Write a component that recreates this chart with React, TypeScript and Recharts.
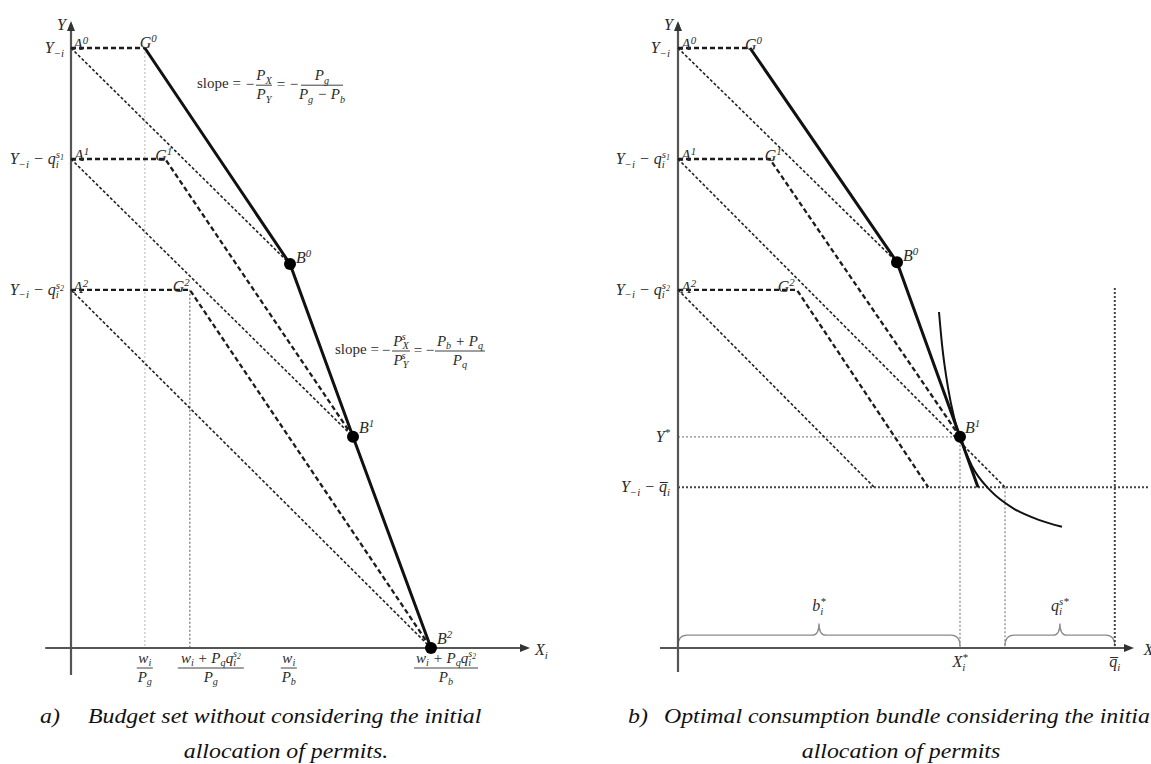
import React from "react";
import {
  ComposedChart,
  Line,
  Scatter,
  XAxis,
  YAxis,
  ReferenceDot,
  ReferenceArea,
} from "recharts";

const FONT = "'Liberation Serif', 'DejaVu Serif', serif";
const INK = "#111";
const TXT = "#2b2b2b";

type Pt = { x: number; y: number };
type Part = { t: string; s?: "sub" | "sup" | "ss"; dx?: number; roman?: boolean };

// ---------- panel a: budget set without initial allocation ----------
const aXAxis: Pt[] = [{ x: -4.3, y: 0 }, { x: 75, y: 0 }];
const aYAxis: Pt[] = [{ x: 0, y: -4.5 }, { x: 0, y: 104 }];
const aFrontier: Pt[] = [
  { x: 12.3, y: 100 },
  { x: 36.5, y: 64 },
  { x: 47, y: 35.2 },
  { x: 60, y: 0 },
];
const aKinked: Pt[][] = [
  [{ x: 0, y: 100 }, { x: 12.3, y: 100 }],
  [{ x: 0, y: 81.5 }, { x: 15.7, y: 81.5 }, { x: 47, y: 35.2 }],
  [{ x: 0, y: 59.7 }, { x: 19.8, y: 59.7 }, { x: 60, y: 0 }],
];
const aBudget: Pt[][] = [
  [{ x: 0, y: 100 }, { x: 36.5, y: 64 }],
  [{ x: 0, y: 81.5 }, { x: 47, y: 35.2 }],
  [{ x: 0, y: 59.7 }, { x: 60, y: 0 }],
];
const aGuideLight: Pt[] = [{ x: 12.3, y: 100 }, { x: 12.3, y: 0 }];
const aGuideDark: Pt[] = [{ x: 19.8, y: 59.7 }, { x: 19.8, y: 0 }];
const aBundles: Pt[] = [{ x: 36.5, y: 64 }, { x: 47, y: 35.2 }, { x: 60, y: 0 }];
const aPoints = [
  { id: "A0", x: 0, y: 100 },
  { id: "G0", x: 12.3, y: 100 },
  { id: "A1", x: 0, y: 81.5 },
  { id: "G1", x: 15.7, y: 81.5 },
  { id: "A2", x: 0, y: 59.7 },
  { id: "G2", x: 19.8, y: 59.7 },
  { id: "B0", x: 36.5, y: 64 },
  { id: "B1", x: 47, y: 35.2 },
  { id: "B2", x: 60, y: 0 },
];
const aYTicks = [
  { id: "Y", y: 100 },
  { id: "Ys1", y: 81.5 },
  { id: "Ys2", y: 59.7 },
];
const aXTicks = [
  { id: "wPg", x: 12.3 },
  { id: "wqPg", x: 19.8 },
  { id: "wPb", x: 36.3 },
  { id: "wqPb", x: 60 },
];

// ---------- panel b: optimal bundle with initial allocation ----------
const bXAxis: Pt[] = [{ x: -3, y: 0 }, { x: 74.5, y: 0 }];
const bYAxis: Pt[] = [{ x: 0, y: -4 }, { x: 0, y: 104 }];
const bFrontier: Pt[] = [
  { x: 12, y: 100 },
  { x: 36.5, y: 64.3 },
  { x: 47, y: 35.2 },
  { x: 50, y: 26.8 },
];
const bKinked: Pt[][] = [
  [{ x: 0, y: 100 }, { x: 12, y: 100 }],
  [{ x: 0, y: 81.5 }, { x: 15.3, y: 81.5 }, { x: 47, y: 35.2 }],
  [{ x: 0, y: 59.7 }, { x: 19.8, y: 59.7 }, { x: 41.7, y: 26.8 }],
];
const bBudget: Pt[][] = [
  [{ x: 0, y: 100 }, { x: 36.5, y: 64.3 }],
  [{ x: 0, y: 81.5 }, { x: 54.5, y: 26.8 }],
  [{ x: 0, y: 59.7 }, { x: 32.7, y: 26.8 }],
];
const bYStar: Pt[] = [{ x: 0, y: 35.2 }, { x: 47, y: 35.2 }];
const bFloor: Pt[] = [{ x: 0, y: 26.8 }, { x: 78.5, y: 26.8 }];
const bDropStar: Pt[] = [{ x: 47, y: 35.2 }, { x: 47, y: 0 }];
const bDropEdge: Pt[] = [{ x: 54.5, y: 26.8 }, { x: 54.5, y: 0 }];
const bDropQbar: Pt[] = [{ x: 72.8, y: 60 }, { x: 72.8, y: 0 }];
const bIndifference: Pt[] = [
  { x: 43.5, y: 56 },
  { x: 44, y: 50.6 },
  { x: 45, y: 43.4 },
  { x: 46, y: 38.5 },
  { x: 47, y: 35.1 },
  { x: 49, y: 30.3 },
  { x: 52, y: 26.3 },
  { x: 56, y: 23.2 },
  { x: 60, y: 21.4 },
  { x: 64, y: 20.2 },
];
const bBundles: Pt[] = [{ x: 36.5, y: 64.3 }, { x: 47, y: 35.2 }];
const bPoints = [
  { id: "A0", x: 0, y: 100 },
  { id: "G0", x: 12, y: 100 },
  { id: "A1", x: 0, y: 81.5 },
  { id: "G1", x: 15.3, y: 81.5 },
  { id: "A2", x: 0, y: 59.7 },
  { id: "G2", x: 19.8, y: 59.7 },
  { id: "B0", x: 36.5, y: 64.3 },
  { id: "B1", x: 47, y: 35.2 },
];
const bYTicks = [
  { id: "Y", y: 100 },
  { id: "Ys1", y: 81.5 },
  { id: "Ys2", y: 59.7 },
  { id: "Ystar", y: 35.2 },
  { id: "Yq", y: 26.8 },
];
const bXTicks = [
  { id: "Xstar", x: 47 },
  { id: "qbar", x: 72.8 },
];
const bBraces = [
  { id: "b", x1: 0, x2: 47 },
  { id: "q", x1: 54.5, x2: 72.8 },
];

// label placement (pixels, relative to the point)
const aLabelOffset: Record<string, [number, number]> = {
  A0: [2, 2], G0: [-5, 0], A1: [3, 2], G1: [-10, 2], A2: [2, 3], G2: [-17, 2],
  B0: [6, -1], B1: [6, -4], B2: [6, -4],
};
const bLabelOffset: Record<string, [number, number]> = {
  A0: [3, 2], G0: [-5, 2], A1: [3, 2], G1: [-5, 2], A2: [3, 3], G2: [-19, 2],
  B0: [6, -1], B1: [5, -4],
};

const yTickParts: Record<string, Part[]> = {
  Y: [{ t: "Y" }, { t: "−i", s: "sub" }],
  Ys1: [{ t: "Y" }, { t: "−i", s: "sub" }, { t: " − q" }, { t: "i", s: "sub" }, { t: "s", s: "sup", dx: -3 }, { t: "1", s: "ss" }],
  Ys2: [{ t: "Y" }, { t: "−i", s: "sub" }, { t: " − q" }, { t: "i", s: "sub" }, { t: "s", s: "sup", dx: -3 }, { t: "2", s: "ss" }],
  Ystar: [{ t: "Y" }, { t: "*", s: "sup" }],
  Yq: [{ t: "Y" }, { t: "−i", s: "sub" }, { t: " − q\u0305" }, { t: "i", s: "sub" }],
};

function MathText({
  x, y, parts, anchor = "start", size = 16, fill = TXT,
}: { x: number; y: number; parts: Part[]; anchor?: string; size?: number; fill?: string }) {
  let level = 0;
  return (
    <text
      x={x}
      y={y}
      textAnchor={anchor as any}
      fontFamily={FONT}
      fontStyle="italic"
      fontSize={size}
      fill={fill}
      style={{ whiteSpace: "pre" }}
    >
      {parts.map((p, i) => {
        const target =
          p.s === "sub" ? size * 0.22 : p.s === "sup" ? -size * 0.38 : p.s === "ss" ? -size * 0.26 : 0;
        const dy = target - level;
        level = target;
        const fs = p.s === "ss" ? size * 0.5 : p.s ? size * 0.68 : size;
        return (
          <tspan key={i} dy={dy || undefined} dx={p.dx} fontSize={fs} fontStyle={p.roman ? "normal" : undefined}>
            {p.t}
          </tspan>
        );
      })}
    </text>
  );
}

function Frac({ cx, bar, w, num, den, size = 15 }: { cx: number; bar: number; w: number; num: Part[]; den: Part[]; size?: number }) {
  return (
    <g>
      <MathText x={cx} y={bar - 5} parts={num} anchor="middle" size={size} />
      <line x1={cx - w / 2} x2={cx + w / 2} y1={bar} y2={bar} stroke={TXT} strokeWidth={0.9} />
      <MathText x={cx} y={bar + 14} parts={den} anchor="middle" size={size} />
    </g>
  );
}

function Roman({ x, y, children, anchor = "start", size = 15 }: any) {
  return (
    <text x={x} y={y} textAnchor={anchor} fontFamily={FONT} fontSize={size} fill={TXT} style={{ whiteSpace: "pre" }}>
      {children}
    </text>
  );
}

function SlopeBrown({ cx, cy }: { cx: number; cy: number }) {
  return (
    <g>
      <Roman x={cx} y={cy + 3}>slope =</Roman>
      <Roman x={cx + 53} y={cy + 4} anchor="middle">−</Roman>
      <Frac cx={cx + 67} bar={cy} w={16} num={[{ t: "P" }, { t: "X", s: "sub" }]} den={[{ t: "P" }, { t: "Y", s: "sub" }]} />
      <Roman x={cx + 84} y={cy + 4} anchor="middle">=</Roman>
      <Roman x={cx + 97} y={cy + 4} anchor="middle">−</Roman>
      <Frac
        cx={cx + 125}
        bar={cy}
        w={42}
        num={[{ t: "P" }, { t: "g", s: "sub" }]}
        den={[{ t: "P" }, { t: "g", s: "sub" }, { t: " − P" }, { t: "b", s: "sub" }]}
      />
    </g>
  );
}

function SlopePermit({ cx, cy }: { cx: number; cy: number }) {
  return (
    <g>
      <Roman x={cx} y={cy + 3}>slope =</Roman>
      <Roman x={cx + 51} y={cy + 4} anchor="middle">−</Roman>
      <Frac
        cx={cx + 66}
        bar={cy}
        w={18}
        num={[{ t: "P" }, { t: "X", s: "sub" }, { t: "s", s: "sup", dx: -7 }]}
        den={[{ t: "P" }, { t: "Y", s: "sub" }, { t: "s", s: "sup", dx: -7 }]}
      />
      <Roman x={cx + 83} y={cy + 4} anchor="middle">=</Roman>
      <Roman x={cx + 95} y={cy + 4} anchor="middle">−</Roman>
      <Frac
        cx={cx + 125}
        bar={cy}
        w={50}
        num={[{ t: "P" }, { t: "b", s: "sub" }, { t: " + P" }, { t: "q", s: "sub" }]}
        den={[{ t: "P" }, { t: "q", s: "sub" }]}
      />
    </g>
  );
}

const q2: Part[] = [{ t: "w" }, { t: "i", s: "sub" }, { t: " + P" }, { t: "q", s: "sub" }, { t: "q" }, { t: "i", s: "sub" }, { t: "s", s: "sup", dx: -3 }, { t: "2", s: "ss" }];
const wi: Part[] = [{ t: "w" }, { t: "i", s: "sub" }];
const aXTickRender: Record<string, (cx: number, cy: number) => React.ReactElement> = {
  wPg: (cx, cy) => <Frac cx={cx} bar={cy + 20} w={16} num={wi} den={[{ t: "P" }, { t: "g", s: "sub" }]} />,
  wqPg: (cx, cy) => <Frac cx={cx + 21} bar={cy + 20} w={66} num={q2} den={[{ t: "P" }, { t: "g", s: "sub" }]} />,
  wPb: (cx, cy) => <Frac cx={cx} bar={cy + 20} w={16} num={wi} den={[{ t: "P" }, { t: "b", s: "sub" }]} />,
  wqPb: (cx, cy) => <Frac cx={cx + 15} bar={cy + 20} w={64} num={q2} den={[{ t: "P" }, { t: "b", s: "sub" }]} />,
};
const bXTickRender: Record<string, (cx: number, cy: number) => React.ReactElement> = {
  Xstar: (cx, cy) => <MathText x={cx} y={cy + 19} anchor="middle" parts={[{ t: "X" }, { t: "i", s: "sub" }, { t: "*", s: "sup", dx: -3 }]} />,
  qbar: (cx, cy) => <MathText x={cx} y={cy + 19} anchor="middle" parts={[{ t: "q\u0305" }, { t: "i", s: "sub" }]} />,
};
const braceText: Record<string, Part[]> = {
  b: [{ t: "b" }, { t: "i", s: "sub" }, { t: "*", s: "sup", dx: -3 }],
  q: [{ t: "q" }, { t: "i", s: "sub" }, { t: "s*", s: "sup", dx: -3 }],
};

function seg(key: string, data: Pt[], stroke: string, width: number, dash?: string, type: any = "linear") {
  return (
    <Line
      key={key}
      data={data}
      dataKey="y"
      type={type}
      stroke={stroke}
      strokeWidth={width}
      strokeDasharray={dash}
      dot={false}
      activeDot={false}
      isAnimationActive={false}
    />
  );
}

function note(key: string, x: number, y: number, render: (cx: number, cy: number) => React.ReactElement) {
  return (
    <ReferenceDot
      key={key}
      x={x}
      y={y}
      r={1}
      isFront
      shape={(p: any) => render(p.cx, p.cy)}
    />
  );
}

const arrowUp = (cx: number, cy: number) => (
  <polygon points={`${cx},${cy - 3} ${cx - 4},${cy + 7} ${cx + 4},${cy + 7}`} fill="#333" />
);
const arrowRight = (cx: number, cy: number) => (
  <polygon points={`${cx + 9},${cy} ${cx - 1},${cy - 4} ${cx - 1},${cy + 4}`} fill="#333" />
);

function braceShape(p: any) {
  const { x, y, width, height } = p;
  const bottom = y + height;
  const flat = bottom - 11;
  const mid = x + width / 2;
  const d = `M${x},${bottom} Q${x},${flat} ${x + 9},${flat} L${mid - 7},${flat} Q${mid},${flat} ${mid},${y} Q${mid},${flat} ${mid + 7},${flat} L${x + width - 9},${flat} Q${x + width},${flat} ${x + width},${bottom}`;
  return <path d={d} fill="none" stroke="#8a8a8a" strokeWidth={1.3} />;
}

const dotShape = (p: any) => <circle cx={p.cx} cy={p.cy} r={6} fill="#000" />;

function pointLabel(id: string, off: [number, number]) {
  return (cx: number, cy: number) => (
    <MathText x={cx + off[0]} y={cy + off[1]} parts={[{ t: id[0] }, { t: id[1], s: "sup" }]} />
  );
}

function PanelA() {
  return (
    <ComposedChart width={575} height={690} margin={{ top: 12, right: 12, bottom: 6, left: 23 }}>
      <XAxis type="number" dataKey="x" domain={[-8, 82]} allowDataOverflow hide />
      <YAxis type="number" dataKey="y" domain={[-6, 106]} allowDataOverflow hide />
      {seg("gl", aGuideLight, "#c8c8c8", 1.3, "2 2")}
      {seg("gd", aGuideDark, "#8a8a8a", 1.5, "2 2")}
      {seg("ax", aXAxis, "#555", 2.2)}
      {seg("ay", aYAxis, "#555", 2.2)}
      {aBudget.map((d, i) => seg(`bud${i}`, d, "#222", 1.6, "3 2"))}
      {aKinked.map((d, i) => seg(`kin${i}`, d, "#1c1c1c", 2.3, "5 3"))}
      {seg("front", aFrontier, INK, 3)}
      <Scatter data={aBundles} shape={dotShape} isAnimationActive={false} />
      {note("au", 0, 104, arrowUp)}
      {note("ar", 75, 0, arrowRight)}
      {note("yl", 0, 104, (cx, cy) => <MathText x={cx - 5} y={cy + 6} anchor="end" parts={[{ t: "Y" }]} />)}
      {note("xl", 77, 0, (cx, cy) => <MathText x={cx + 2} y={cy + 7} parts={[{ t: "X" }, { t: "i", s: "sub" }]} />)}
      {aPoints.map((p) => note(`pl${p.id}`, p.x, p.y, pointLabel(p.id, aLabelOffset[p.id])))}
      {aYTicks.map((t) => note(`yt${t.id}`, 0, t.y, (cx, cy) => <MathText x={cx - 7} y={cy + 5} anchor="end" parts={yTickParts[t.id]} />))}
      {aXTicks.map((t) => note(`xt${t.id}`, t.x, 0, aXTickRender[t.id]))}
      {note("s1", 21, 93.8, (cx, cy) => <SlopeBrown cx={cx} cy={cy} />)}
      {note("s2", 44, 49.5, (cx, cy) => <SlopePermit cx={cx} cy={cy} />)}
    </ComposedChart>
  );
}

function PanelB() {
  return (
    <ComposedChart width={576} height={690} margin={{ top: 12, right: 2, bottom: 6, left: 55 }}>
      <XAxis type="number" dataKey="x" domain={[-8, 78.5]} allowDataOverflow hide />
      <YAxis type="number" dataKey="y" domain={[-6, 106]} allowDataOverflow hide />
      {bBraces.map((b) => (
        <ReferenceArea key={`br${b.id}`} x1={b.x1} x2={b.x2} y1={0.3} y2={4.1} shape={braceShape} ifOverflow="visible" />
      ))}
      {seg("ys", bYStar, "#8a8a8a", 1.3, "2 2")}
      {seg("dst", bDropStar, "#8a8a8a", 1.3, "2 2")}
      {seg("ded", bDropEdge, "#8a8a8a", 1.3, "2 2")}
      {seg("fl", bFloor, "#444", 2, "2 2")}
      {seg("dq", bDropQbar, "#444", 2, "2 2")}
      {seg("ax", bXAxis, "#555", 2.2)}
      {seg("ay", bYAxis, "#555", 2.2)}
      {bBudget.map((d, i) => seg(`bud${i}`, d, "#222", 1.6, "3 2"))}
      {bKinked.map((d, i) => seg(`kin${i}`, d, "#1c1c1c", 2.3, "5 3"))}
      {seg("ic", bIndifference, INK, 2, undefined, "monotone")}
      {seg("front", bFrontier, INK, 3)}
      <Scatter data={bBundles} shape={dotShape} isAnimationActive={false} />
      {note("au", 0, 104, arrowUp)}
      {note("ar", 74.5, 0, arrowRight)}
      {note("yl", 0, 104, (cx, cy) => <MathText x={cx - 5} y={cy + 6} anchor="end" parts={[{ t: "Y" }]} />)}
      {note("xl", 77.3, 0, (cx, cy) => <MathText x={cx + 2} y={cy + 7} parts={[{ t: "X" }, { t: "i", s: "sub" }]} />)}
      {bPoints.map((p) => note(`pl${p.id}`, p.x, p.y, pointLabel(p.id, bLabelOffset[p.id])))}
      {bYTicks.map((t) => note(`yt${t.id}`, 0, t.y, (cx, cy) => <MathText x={cx - 8} y={cy + 5} anchor="end" parts={yTickParts[t.id]} />))}
      {bXTicks.map((t) => note(`xt${t.id}`, t.x, 0, bXTickRender[t.id]))}
      {bBraces.map((b) =>
        note(`bl${b.id}`, (b.x1 + b.x2) / 2, 0, (cx, cy) => (
          <MathText x={cx} y={cy - 37} anchor="middle" parts={braceText[b.id]} />
        ))
      )}
    </ComposedChart>
  );
}

const captionStyle: React.CSSProperties = {
  position: "absolute",
  fontFamily: FONT,
  fontStyle: "italic",
  fontSize: 20,
  color: "#111",
  whiteSpace: "nowrap",
  lineHeight: "20px",
  transformOrigin: "0 0",
};
const wide = "scaleX(1.19)";
const wideCentered = "scaleX(1.19) translateX(-50%)";

export default function App() {
  return (
    <div
      style={{
        position: "absolute",
        left: 0,
        top: 0,
        width: 1151,
        height: 764,
        overflow: "hidden",
        background: "#fff",
      }}
    >
      <div style={{ position: "absolute", left: 0, top: 0 }}>
        <PanelA />
      </div>
      <div style={{ position: "absolute", left: 575, top: 0 }}>
        <PanelB />
      </div>
      <div style={{ ...captionStyle, left: 40, top: 706, transform: wide }}>a)</div>
      <div style={{ ...captionStyle, left: 88, top: 706, transform: wide }}>Budget set without considering the initial</div>
      <div style={{ ...captionStyle, left: 286, top: 741, transform: wideCentered }}>allocation of permits.</div>
      <div style={{ ...captionStyle, left: 628, top: 706, transform: wide }}>b)</div>
      <div style={{ ...captionStyle, left: 664, top: 706, transform: wide }}>Optimal consumption bundle considering the initial</div>
      <div style={{ ...captionStyle, left: 901, top: 741, transform: wideCentered }}>allocation of permits</div>
    </div>
  );
}
